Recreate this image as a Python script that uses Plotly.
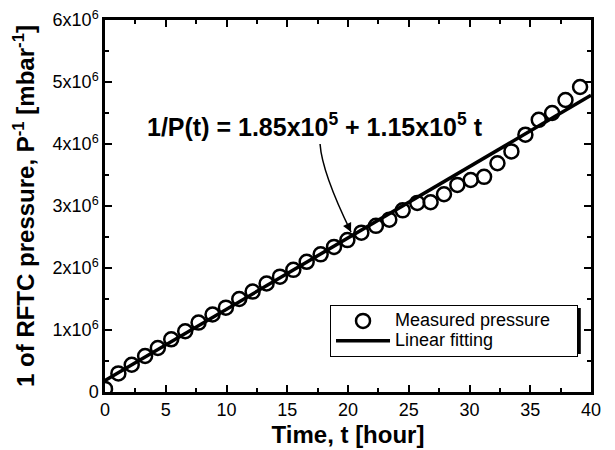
import plotly.graph_objects as go

# Measured inverse pressure of the RFTC versus time
hours = [0.0, 1.1, 2.2, 3.3, 4.35, 5.45, 6.6, 7.7, 8.85, 9.95, 11.05, 12.15,
         13.3, 14.4, 15.5, 16.6, 17.75, 18.85, 19.95, 21.1, 22.3, 23.4, 24.5,
         25.7, 26.8, 27.9, 29.0, 30.1, 31.2, 32.3, 33.45, 34.6, 35.7, 36.8,
         37.9, 39.1]
inv_pressure = [0.05e6, 0.30e6, 0.44e6, 0.58e6, 0.71e6, 0.85e6, 0.98e6, 1.12e6,
                1.25e6, 1.36e6, 1.50e6, 1.62e6, 1.75e6, 1.86e6, 1.97e6, 2.10e6,
                2.22e6, 2.34e6, 2.45e6, 2.57e6, 2.68e6, 2.78e6, 2.93e6, 3.05e6,
                3.06e6, 3.19e6, 3.34e6, 3.42e6, 3.47e6, 3.69e6, 3.88e6, 4.15e6,
                4.39e6, 4.50e6, 4.71e6, 4.92e6]

# Linear fit 1/P(t) = a + b t
fit_intercept = 1.85e5
fit_slope = 1.15e5
fit_t = [0, 40]
fit_vals = [fit_intercept + fit_slope * t for t in fit_t]

# Axis ticks
x_ticks = [0, 5, 10, 15, 20, 25, 30, 35, 40]
y_ticks = [0, 1e6, 2e6, 3e6, 4e6, 5e6, 6e6]
y_tick_text = ["0", "1x10<sup>6</sup>", "2x10<sup>6</sup>", "3x10<sup>6</sup>",
               "4x10<sup>6</sup>", "5x10<sup>6</sup>", "6x10<sup>6</sup>"]

FONT = "Liberation Sans, Arial, sans-serif"


def legend_name(label):
    # larger text on a compact legend row, with some room on the right
    return f"<span style='font-size:18px'>{label}</span>" + "&nbsp;" * 6


fig = go.Figure()
fig.add_trace(go.Scatter(
    x=hours, y=inv_pressure, mode="markers", name=legend_name("Measured pressure"),
    marker=dict(symbol="circle-open", size=14, color="black",
                line=dict(width=2.5, color="black")),
))
fig.add_trace(go.Scatter(
    x=fit_t, y=fit_vals, mode="lines", name=legend_name("Linear fitting"),
    line=dict(color="black", width=3.5),
))

axis_common = dict(
    showline=True, linecolor="black", linewidth=2.5, mirror="ticks",
    ticks="inside", ticklen=7, tickwidth=2, tickcolor="black",
    showgrid=False, zeroline=False,
    tickfont=dict(family=FONT, size=18, color="black"),
)

fig.update_xaxes(
    range=[0, 40], tickvals=x_ticks,
    minor=dict(dtick=2.5, ticks="inside", ticklen=4, tickwidth=2, tickcolor="black"),
    title=dict(text="<b>Time, t [hour]</b>", standoff=7,
               font=dict(family=FONT, size=24, color="black")),
    automargin=False,
    **axis_common,
)
fig.update_yaxes(
    range=[0, 6e6], tickvals=y_ticks, ticktext=y_tick_text,
    minor=dict(dtick=0.5e6, ticks="inside", ticklen=4, tickwidth=2, tickcolor="black"),
    title=dict(text="<b>1 of RFTC pressure, P<sup>-1</sup> [mbar<sup>-1</sup>]</b>",
               standoff=12, font=dict(family=FONT, size=24, color="black")),
    automargin=False,
    **axis_common,
)

# Equation label with a curved pointer to the fitted line
eq_pos = (17.3, 4.3e6)
pointer_start = (17.7, 4.0e6)
pointer_ctrl = (17.86, 3.54e6)
pointer_end = (20.25, 2.58e6)
pointer_tail = (19.89, 2.725e6)

fig.add_annotation(
    x=eq_pos[0], y=eq_pos[1], xref="x", yref="y", showarrow=False,
    text="<b>1/P(t) = 1.85x10<sup>5</sup> + 1.15x10<sup>5</sup> t</b>",
    font=dict(family=FONT, size=25, color="black"),
)
fig.add_shape(
    type="path", xref="x", yref="y",
    path=(f"M {pointer_start[0]},{pointer_start[1]} "
          f"Q {pointer_ctrl[0]},{pointer_ctrl[1]} {pointer_end[0]},{pointer_end[1]}"),
    line=dict(color="black", width=1.5),
)
fig.add_annotation(
    x=pointer_end[0], y=pointer_end[1], xref="x", yref="y",
    ax=pointer_tail[0], ay=pointer_tail[1], axref="x", ayref="y",
    text="", showarrow=True, arrowhead=2, arrowsize=1.2, arrowwidth=1.5,
    arrowcolor="black", standoff=0,
)

# Drop shadow behind the legend box
fig.add_shape(
    type="rect", xref="paper", yref="paper",
    x0=0.469, x1=0.979, y0=0.102, y1=0.226,
    fillcolor="black", line=dict(width=0), layer="above",
)

fig.update_layout(
    width=615, height=450,
    margin=dict(l=105, r=24, t=20, b=58),
    paper_bgcolor="white", plot_bgcolor="white",
    showlegend=True,
    legend=dict(
        x=0.463, y=0.234, xanchor="left", yanchor="top",
        bgcolor="white", bordercolor="black", borderwidth=1,
        font=dict(family=FONT, size=13, color="black"),
        itemwidth=54, tracegroupgap=0,
    ),
)

fig.write_html("out.html")
